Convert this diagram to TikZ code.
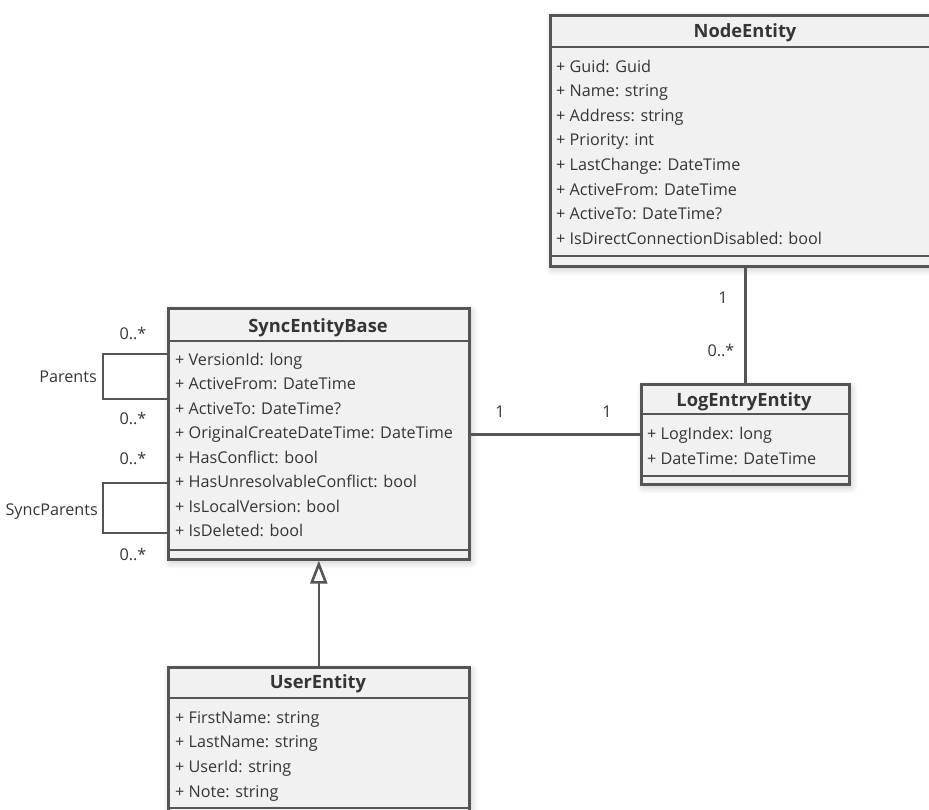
\documentclass[tikz,border=0pt]{standalone}
\usepackage{fontspec}
\setmainfont{Open Sans}
\usetikzlibrary{arrows.meta,shadows.blur}
\definecolor{umlline}{HTML}{555555}
\definecolor{umlfill}{HTML}{F1F1F1}
\definecolor{umltext}{HTML}{353535}
\tikzset{
  classbox/.style={draw=umlline, fill=umlfill, line width=2.6pt, rectangle, inner sep=0pt,
    anchor=north west,
    blur shadow={shadow xshift=2pt, shadow yshift=-3pt, shadow blur radius=7pt,
      shadow blur steps=10, shadow opacity=22}},
  divider/.style={draw=umlline, line width=2.6pt},
  link/.style={draw=umlline, line width=2.6pt},
  classtitle/.style={font=\fontsize{18.3}{20}\selectfont\bfseries, text=umltext,
    anchor=base, inner sep=0pt},
  attr/.style={font=\fontsize{16.2}{19}\selectfont, text=umltext, anchor=base west, inner sep=0pt},
  mult/.style={font=\fontsize{16.2}{19}\selectfont, text=umltext, anchor=base, inner sep=0pt},
  rolename/.style={font=\fontsize{16.2}{19}\selectfont, text=umltext, anchor=base east, inner sep=0pt},
}
\begin{document}
\begin{tikzpicture}[x=1pt, y=-1pt]
\useasboundingbox (0,0) rectangle (929,809);

% ---- class boxes ----
\node[classbox, minimum width=430pt, minimum height=251pt] (node) at (549,14) {};
\node[classbox, minimum width=301pt, minimum height=251pt] (seb) at (167,307) {};
\node[classbox, minimum width=208pt, minimum height=100pt] (log) at (640,383) {};
\node[classbox, minimum width=301pt, minimum height=151pt] (user) at (167,666) {};

% ---- compartments ----
\draw[divider] (node.west |- 0,47) -- (node.east |- 0,47);
\draw[divider] (node.west |- 0,256) -- (node.east |- 0,256);
\draw[divider] (seb.west |- 0,341) -- (seb.east |- 0,341);
\draw[divider] (seb.west |- 0,550) -- (seb.east |- 0,550);
\draw[divider] (log.west |- 0,414) -- (log.east |- 0,414);
\draw[divider] (log.west |- 0,476) -- (log.east |- 0,476);
\draw[divider] (user.west |- 0,698) -- (user.east |- 0,698);
\draw[divider] (user.west |- 0,808) -- (user.east |- 0,808);

% ---- NodeEntity ----
\node[classtitle] (nodeT) at (745,37) {NodeEntity};
\foreach \t [count=\i from 0] in {%
  {+ Guid: Guid},{+ Name: string},{+ Address: string},{+ Priority: int},%
  {+ LastChange: DateTime},{+ ActiveFrom: DateTime},{+ ActiveTo: DateTime?},%
  {+ IsDirectConnectionDisabled: bool}}
  \node[attr] (nodeA\i) at (556,72+24.6*\i) {\t};

% ---- SyncEntityBase ----
\node[classtitle] (sebT) at (318,332) {SyncEntityBase};
\foreach \t [count=\i from 0] in {%
  {+ VersionId: long},{+ ActiveFrom: DateTime},{+ ActiveTo: DateTime?},%
  {+ OriginalCreateDateTime: DateTime},{+ HasConflict: bool},%
  {+ HasUnresolvableConflict: bool},{+ IsLocalVersion: bool},{+ IsDeleted: bool}}
  \node[attr] (sebA\i) at (175,365+24.5*\i) {\t};

% ---- LogEntryEntity ----
\node[classtitle] (logT) at (744,406) {LogEntryEntity};
\node[attr] (logA0) at (647,439) {+ LogIndex: long};
\node[attr] (logA1) at (647,464) {+ DateTime: DateTime};

% ---- UserEntity ----
\node[classtitle] (userT) at (318,688) {UserEntity};
\foreach \t [count=\i from 0] in {%
  {+ FirstName: string},{+ LastName: string},{+ UserId: string},{+ Note: string}}
  \node[attr] (userA\i) at (175,723+24.7*\i) {\t};

% ---- associations ----
\draw[link] (node.south -| log.north) -- (log.north);
\node[mult] (m1) at (723,303) {1};
\node[mult] (m2) at (721,356) {0..*};

\draw[link] (log.west) -- (log.west -| seb.east);
\node[mult] (m3) at (500,417) {1};
\node[mult] (m4) at (607,417) {1};

% self associations on SyncEntityBase
\draw[link] (seb.west |- 0,354) -- ++(-64,0) |- (seb.west |- 0,399);
\node[mult] (m5) at (133,339) {0..*};
\node[mult] (m6) at (133,424) {0..*};
\node[rolename] (r1) at (97,382) {Parents};

\draw[link] (seb.west |- 0,483) -- ++(-64,0) |- (seb.west |- 0,533);
\node[mult] (m7) at (133,464) {0..*};
\node[mult] (m8) at (133,560) {0..*};
\node[rolename] (r2) at (98,515) {SyncParents};

% ---- generalization ----
\draw[link, -{Triangle[open, length=23pt, width=17pt]}] (user.north) -- (seb.south);
\end{tikzpicture}
\end{document}
